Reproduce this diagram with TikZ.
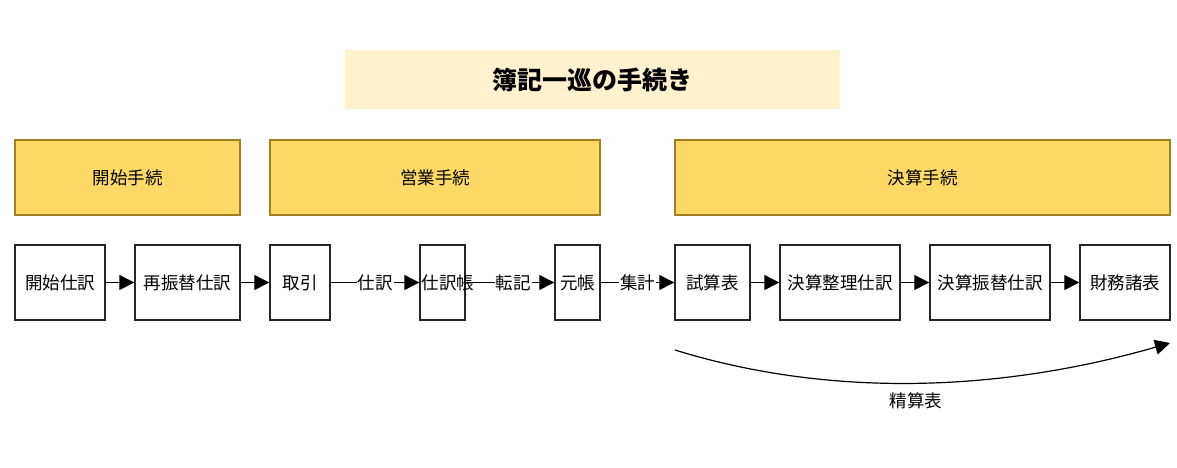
\documentclass[tikz,border=0pt]{standalone}
\usepackage{fontspec}
\setmainfont{Noto Sans CJK JP}
\usetikzlibrary{arrows.meta}
\definecolor{titlefill}{HTML}{FFF2CC}
\definecolor{phasefill}{HTML}{FFD966}
\definecolor{phaseline}{HTML}{A08020}
\begin{document}
\begin{tikzpicture}[x=1pt,y=-1pt,
  titlebox/.style={fill=titlefill,draw=none,minimum width=495pt,minimum height=59pt,inner sep=0pt,font=\fontsize{25}{28}\selectfont\bfseries},
  phasebox/.style={fill=phasefill,draw=phaseline,line width=1.4pt,minimum height=75pt,inner sep=0pt,font=\fontsize{17.5}{20}\selectfont},
  procbox/.style={fill=white,draw=black!85,line width=1.4pt,minimum height=75pt,inner sep=0pt,font=\fontsize{17.5}{20}\selectfont},
  flow/.style={draw=black,line width=1.2pt,-{Triangle[length=15pt,width=15pt]}},
  flowlabel/.style={fill=white,inner sep=1pt,font=\fontsize{17.5}{20}\selectfont}
]
\useasboundingbox (0,0) rectangle (1177,467);

% title
\node[titlebox] (title) at (592.5,79.5) {簿記一巡の手続き};

% phases
\node[phasebox,minimum width=225pt] (ph1) at (127.5,177.5) {開始手続};
\node[phasebox,minimum width=330pt] (ph2) at (435,177.5) {営業手続};
\node[phasebox,minimum width=495pt] (ph3) at (922.5,177.5) {決算手続};

% process steps (narrow boxes let their text run over the border)
\node[procbox,minimum width=90pt]  (s1) at (60,282.5)   {開始仕訳};
\node[procbox,minimum width=105pt] (s2) at (187.5,282.5) {再振替仕訳};
\node[procbox,minimum width=60pt]  (s3) at (300,282.5)  {取引};
\node[procbox,minimum width=45pt]  (s4) at (442.5,282.5) {\makebox[45pt][l]{\hspace{1.5pt}仕訳帳}};
\node[procbox,minimum width=45pt]  (s5) at (577.5,282.5) {\makebox[45pt][c]{元帳}};
\node[procbox,minimum width=75pt]  (s6) at (712.5,282.5) {試算表};
\node[procbox,minimum width=120pt] (s7) at (840,282.5)  {決算整理仕訳};
\node[procbox,minimum width=120pt] (s8) at (990,282.5)  {決算振替仕訳};
\node[procbox,minimum width=90pt]  (s9) at (1125,282.5) {財務諸表};

% connectors
\draw[flow] (s1) -- (s2);
\draw[flow] (s2) -- (s3);
\draw[flow] (s3) -- node[flowlabel] {仕訳} (s4);
\draw[flow] (s4) -- node[flowlabel,xshift=3pt] {転記} (s5);
\draw[flow] (s5) -- node[flowlabel] {集計} (s6);
\draw[flow] (s6) -- (s7);
\draw[flow] (s7) -- (s8);
\draw[flow] (s8) -- (s9);

% worksheet arc
\coordinate (ws1) at (675,350);
\coordinate (ws2) at (1170,343);
\draw[flow] (ws1) .. controls (830,398) and (1000,392) .. (ws2);
\node[font=\fontsize{17.5}{20}\selectfont] (wslabel) at (916,401) {精算表};
\end{tikzpicture}
\end{document}
